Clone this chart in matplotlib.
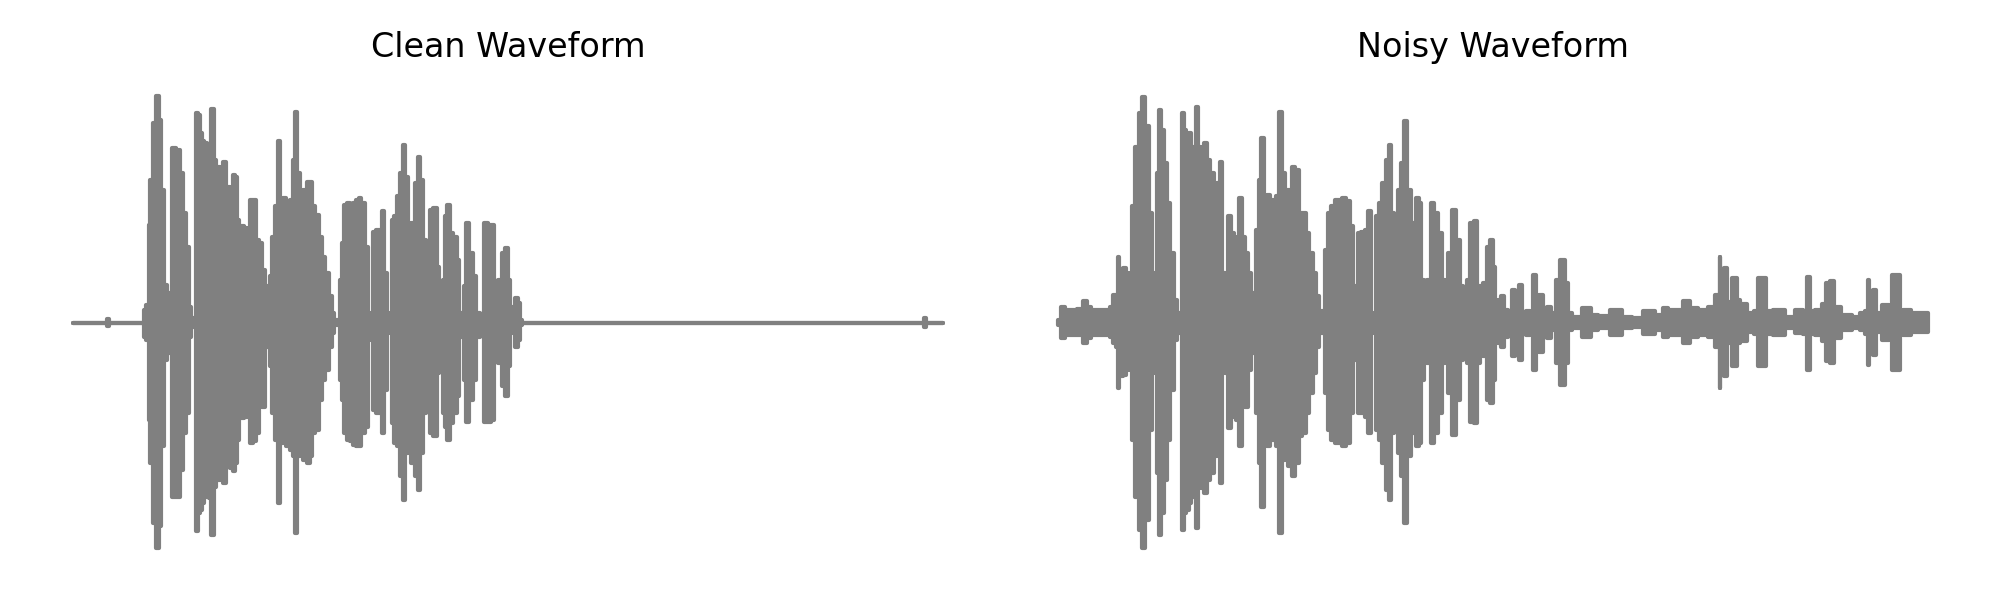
import matplotlib
matplotlib.use("Agg")
import matplotlib.pyplot as plt

# envelope of each waveform (seconds, upper peak, lower peak)
clean_time = [
    0.000, 0.154, 0.162, 0.169, 0.323, 0.331, 0.342, 0.349, 0.351, 0.362,
    0.377, 0.389, 0.400, 0.415, 0.428, 0.443, 0.455, 0.462, 0.485, 0.500,
    0.515, 0.528, 0.538, 0.554, 0.566, 0.569, 0.580, 0.588, 0.600, 0.612,
    0.623, 0.634, 0.643, 0.654, 0.669, 0.685, 0.700, 0.715, 0.731, 0.742,
    0.751, 0.762, 0.772, 0.782, 0.797, 0.809, 0.825, 0.837, 0.849, 0.865,
    0.880, 0.895, 0.905, 0.914, 0.926, 0.938, 0.949, 0.962, 0.977, 0.992,
    1.008, 1.018, 1.029, 1.040, 1.055, 1.071, 1.086, 1.097, 1.111, 1.126,
    1.142, 1.157, 1.172, 1.188, 1.197, 1.208, 1.228, 1.238, 1.246, 1.257,
    1.269, 1.285, 1.300, 1.315, 1.323, 1.338, 1.354, 1.366, 1.377, 1.392,
    1.408, 1.423, 1.431, 1.443, 1.455, 1.465, 1.474, 1.489, 1.505, 1.515,
    1.528, 1.538, 1.554, 1.569, 1.585, 1.597, 1.608, 1.623, 1.638, 1.654,
    1.669, 1.685, 1.695, 1.703, 1.711, 1.723, 1.731, 1.746, 1.762, 1.777,
    1.788, 1.797, 1.808, 1.820, 1.838, 1.854, 1.868, 1.885, 1.905, 1.923,
    1.935, 1.946, 1.957, 1.969, 1.985, 2.000, 2.012, 2.022, 2.031, 2.046,
    2.058, 2.069, 2.077, 3.923, 3.931, 3.938, 4.014,
]
clean_upper = [
    0, 0, 0.015, 0, 0, 0.056, 0.078, 0.040, 0.431, 0.629,
    0.879, 1.000, 0.894, 0.585, 0.166, 0.129, 0.115, 0.769, 0.762, 0.659,
    0.482, 0.335, 0.070, 0.019, 0.010, 0.924, 0.916, 0.835, 0.799, 0.791,
    0.718, 0.776, 0.941, 0.718, 0.688, 0.651, 0.710, 0.600, 0.585, 0.651,
    0.644, 0.453, 0.115, 0.424, 0.416, 0.276, 0.541, 0.541, 0.365, 0.350,
    0.232, 0.159, 0.070, 0.203, 0.379, 0.512, 0.799, 0.519, 0.549, 0.401,
    0.541, 0.718, 0.931, 0.659, 0.541, 0.585, 0.622, 0.622, 0.512, 0.475,
    0.379, 0.291, 0.218, 0.115, 0.041, 0.012, 0.012, 0.188, 0.350, 0.519,
    0.526, 0.512, 0.526, 0.541, 0.549, 0.526, 0.335, 0.041, 0.019, 0.401,
    0.409, 0.306, 0.490, 0.218, 0.041, 0.012, 0.453, 0.468, 0.556, 0.659,
    0.784, 0.644, 0.365, 0.438, 0.615, 0.732, 0.629, 0.365, 0.350, 0.497,
    0.504, 0.247, 0.041, 0.015, 0.188, 0.468, 0.519, 0.394, 0.379, 0.276,
    0.041, 0.019, 0.159, 0.438, 0.306, 0.203, 0.041, 0.015, 0.438, 0.431,
    0.431, 0.041, 0.019, 0.188, 0.306, 0.328, 0.188, 0.041, 0.070, 0.107,
    0.085, 0.012, 0, 0, 0.020, 0, 0,
]
clean_lower = [
    0, 0, -0.015, 0, 0, -0.062, -0.076, -0.047, -0.429, -0.621,
    -0.885, -0.996, -0.900, -0.547, -0.165, -0.135, -0.106, -0.768, -0.768, -0.650,
    -0.488, -0.400, -0.062, -0.018, -0.010, -0.922, -0.841, -0.826, -0.797, -0.768,
    -0.753, -0.776, -0.937, -0.724, -0.694, -0.679, -0.709, -0.621, -0.643, -0.657,
    -0.621, -0.518, -0.090, -0.422, -0.415, -0.341, -0.532, -0.525, -0.488, -0.363,
    -0.371, -0.106, -0.069, -0.194, -0.400, -0.518, -0.797, -0.532, -0.518, -0.547,
    -0.562, -0.591, -0.929, -0.591, -0.576, -0.606, -0.621, -0.591, -0.488, -0.474,
    -0.341, -0.253, -0.209, -0.106, -0.047, -0.010, -0.010, -0.253, -0.341, -0.488,
    -0.518, -0.525, -0.540, -0.547, -0.547, -0.488, -0.459, -0.076, -0.018, -0.385,
    -0.400, -0.400, -0.488, -0.297, -0.047, -0.015, -0.444, -0.532, -0.547, -0.679,
    -0.782, -0.576, -0.400, -0.621, -0.679, -0.738, -0.576, -0.400, -0.341, -0.488,
    -0.503, -0.224, -0.047, -0.015, -0.400, -0.459, -0.518, -0.444, -0.400, -0.326,
    -0.062, -0.021, -0.253, -0.437, -0.341, -0.253, -0.062, -0.015, -0.437, -0.437,
    -0.429, -0.062, -0.019, -0.179, -0.282, -0.326, -0.194, -0.047, -0.032, -0.106,
    -0.076, -0.010, 0, 0, -0.020, 0, 0,
]

noisy_time = [
    0.000, 0.028, 0.043, 0.074, 0.105, 0.125, 0.143, 0.166, 0.197, 0.228,
    0.251, 0.263, 0.274, 0.282, 0.289, 0.297, 0.308, 0.320, 0.328, 0.338,
    0.351, 0.366, 0.382, 0.397, 0.412, 0.428, 0.443, 0.455, 0.462, 0.471,
    0.482, 0.497, 0.512, 0.528, 0.543, 0.558, 0.569, 0.578, 0.589, 0.600,
    0.609, 0.620, 0.632, 0.643, 0.654, 0.666, 0.682, 0.697, 0.712, 0.728,
    0.743, 0.754, 0.766, 0.782, 0.794, 0.805, 0.820, 0.831, 0.843, 0.855,
    0.871, 0.886, 0.898, 0.908, 0.923, 0.935, 0.946, 0.958, 0.974, 0.989,
    1.005, 1.015, 1.031, 1.043, 1.058, 1.074, 1.089, 1.105, 1.120, 1.138,
    1.154, 1.169, 1.185, 1.200, 1.212, 1.228, 1.243, 1.255, 1.271, 1.286,
    1.302, 1.320, 1.343, 1.358, 1.369, 1.382, 1.394, 1.412, 1.428, 1.440,
    1.451, 1.466, 1.477, 1.492, 1.508, 1.523, 1.535, 1.548, 1.563, 1.578,
    1.594, 1.606, 1.620, 1.640, 1.651, 1.662, 1.674, 1.686, 1.697, 1.712,
    1.732, 1.748, 1.766, 1.782, 1.797, 1.812, 1.831, 1.846, 1.866, 1.882,
    1.897, 1.912, 1.932, 1.943, 1.958, 1.974, 1.989, 2.005, 2.015, 2.028,
    2.043, 2.055, 2.071, 2.089, 2.105, 2.120, 2.138, 2.151, 2.174, 2.189,
    2.205, 2.215, 2.235, 2.251, 2.271, 2.289, 2.312, 2.331, 2.351, 2.366,
    2.389, 2.451, 2.474, 2.512, 2.588, 2.627, 2.674, 2.735, 2.782, 2.808,
    2.828, 2.874, 2.905, 2.935, 2.982, 3.028, 3.043, 3.055, 3.058, 3.062,
    3.074, 3.078, 3.086, 3.092, 3.112, 3.117, 3.135, 3.142, 3.158, 3.205,
    3.231, 3.235, 3.269, 3.274, 3.335, 3.382, 3.428, 3.458, 3.463, 3.471,
    3.475, 3.520, 3.543, 3.551, 3.582, 3.589, 3.643, 3.689, 3.720, 3.740,
    3.745, 3.749, 3.763, 3.766, 3.777, 3.782, 3.828, 3.852, 3.855, 3.886,
    3.891, 3.920, 3.966, 3.997, 4.017,
]
noisy_upper = [
    0.010, 0.070, 0.056, 0.056, 0.059, 0.093, 0.070, 0.056, 0.056, 0.056,
    0.070, 0.122, 0.115, 0.291, 0.056, 0.232, 0.240, 0.218, 0.056, 0.218,
    0.512, 0.776, 0.924, 0.997, 0.865, 0.482, 0.188, 0.218, 0.659, 0.938,
    0.850, 0.703, 0.526, 0.306, 0.100, 0.041, 0.020, 0.924, 0.850, 0.821,
    0.835, 0.703, 0.776, 0.953, 0.776, 0.688, 0.791, 0.718, 0.659, 0.571,
    0.615, 0.710, 0.218, 0.188, 0.468, 0.394, 0.379, 0.365, 0.549, 0.379,
    0.306, 0.218, 0.041, 0.129, 0.409, 0.629, 0.813, 0.512, 0.563, 0.541,
    0.512, 0.556, 0.931, 0.659, 0.585, 0.585, 0.688, 0.674, 0.482, 0.482,
    0.394, 0.306, 0.218, 0.115, 0.049, 0.049, 0.321, 0.482, 0.512, 0.541,
    0.541, 0.550, 0.534, 0.424, 0.159, 0.041, 0.394, 0.401, 0.409, 0.490,
    0.041, 0.012, 0.468, 0.526, 0.615, 0.718, 0.784, 0.482, 0.438, 0.585,
    0.703, 0.887, 0.585, 0.438, 0.188, 0.549, 0.526, 0.188, 0.159, 0.188,
    0.526, 0.482, 0.394, 0.188, 0.159, 0.306, 0.497, 0.365, 0.159, 0.056,
    0.188, 0.438, 0.446, 0.159, 0.159, 0.174, 0.335, 0.365, 0.247, 0.056,
    0.100, 0.115, 0.056, 0.041, 0.144, 0.041, 0.166, 0.041, 0.049, 0.026,
    0.210, 0.026, 0.122, 0.026, 0.070, 0.041, 0.188, 0.276, 0.174, 0.041,
    0.026, 0.063, 0.034, 0.029, 0.056, 0.026, 0.019, 0.049, 0.034, 0.063,
    0.056, 0.056, 0.093, 0.063, 0.056, 0.070, 0.122, 0.080, 0.291, 0.080,
    0.080, 0.240, 0.240, 0.070, 0.090, 0.196, 0.196, 0.100, 0.080, 0.041,
    0.050, 0.196, 0.196, 0.050, 0.056, 0.026, 0.056, 0.050, 0.200, 0.200,
    0.050, 0.056, 0.080, 0.174, 0.181, 0.070, 0.034, 0.026, 0.041, 0.050,
    0.188, 0.050, 0.050, 0.144, 0.144, 0.041, 0.078, 0.060, 0.210, 0.210,
    0.050, 0.056, 0.041, 0.041, 0.041,
]
noisy_lower = [
    -0.010, -0.069, -0.054, -0.054, -0.054, -0.091, -0.069, -0.054, -0.054, -0.054,
    -0.062, -0.091, -0.106, -0.290, -0.054, -0.238, -0.231, -0.209, -0.054, -0.209,
    -0.518, -0.768, -0.915, -0.996, -0.871, -0.474, -0.179, -0.224, -0.665, -0.937,
    -0.841, -0.694, -0.518, -0.297, -0.076, -0.047, -0.020, -0.915, -0.841, -0.826,
    -0.797, -0.768, -0.768, -0.907, -0.694, -0.731, -0.753, -0.694, -0.665, -0.591,
    -0.576, -0.709, -0.209, -0.224, -0.466, -0.400, -0.415, -0.429, -0.547, -0.341,
    -0.371, -0.209, -0.047, -0.135, -0.400, -0.621, -0.812, -0.503, -0.547, -0.518,
    -0.488, -0.547, -0.929, -0.606, -0.591, -0.635, -0.679, -0.621, -0.503, -0.488,
    -0.400, -0.312, -0.224, -0.106, -0.047, -0.047, -0.312, -0.474, -0.518, -0.532,
    -0.532, -0.547, -0.532, -0.400, -0.165, -0.047, -0.400, -0.400, -0.415, -0.488,
    -0.047, -0.018, -0.474, -0.518, -0.621, -0.738, -0.782, -0.488, -0.400, -0.576,
    -0.679, -0.885, -0.591, -0.488, -0.224, -0.547, -0.532, -0.253, -0.165, -0.179,
    -0.532, -0.488, -0.400, -0.179, -0.150, -0.312, -0.496, -0.341, -0.165, -0.062,
    -0.179, -0.437, -0.444, -0.179, -0.135, -0.150, -0.341, -0.356, -0.253, -0.062,
    -0.091, -0.106, -0.062, -0.032, -0.150, -0.047, -0.165, -0.032, -0.054, -0.025,
    -0.209, -0.025, -0.128, -0.025, -0.069, -0.032, -0.179, -0.275, -0.179, -0.032,
    -0.025, -0.062, -0.032, -0.025, -0.054, -0.025, -0.021, -0.050, -0.035, -0.062,
    -0.054, -0.054, -0.091, -0.062, -0.054, -0.062, -0.106, -0.080, -0.290, -0.080,
    -0.080, -0.238, -0.238, -0.070, -0.090, -0.194, -0.194, -0.091, -0.080, -0.040,
    -0.050, -0.194, -0.194, -0.050, -0.054, -0.025, -0.047, -0.050, -0.209, -0.209,
    -0.050, -0.054, -0.080, -0.172, -0.179, -0.070, -0.032, -0.025, -0.032, -0.050,
    -0.187, -0.050, -0.050, -0.143, -0.143, -0.040, -0.076, -0.060, -0.209, -0.209,
    -0.050, -0.054, -0.040, -0.040, -0.040,
]

titles = ["Clean Waveform", "Noisy Waveform"]

assert len(clean_time) == len(clean_upper) == len(clean_lower)
assert len(noisy_time) == len(noisy_upper) == len(noisy_lower)

fig, axes = plt.subplots(1, 2, figsize=(10, 3), dpi=200)
fig.subplots_adjust(left=0.0148, right=0.9855, top=0.878, bottom=0.047, wspace=0.029)

waves = [(clean_time, clean_upper, clean_lower), (noisy_time, noisy_upper, noisy_lower)]
for ax, (t, up, lo), title in zip(axes, waves, titles):
    # step fill keeps the vertical, blocky look of a dense waveform
    ax.fill_between(t, lo, up, step="mid", color="gray", linewidth=1.5, joinstyle="round")
    ax.set_ylim(-1.1, 1.1)
    ax.set_title(title)
    ax.axis("off")

plt.savefig("out.png")
